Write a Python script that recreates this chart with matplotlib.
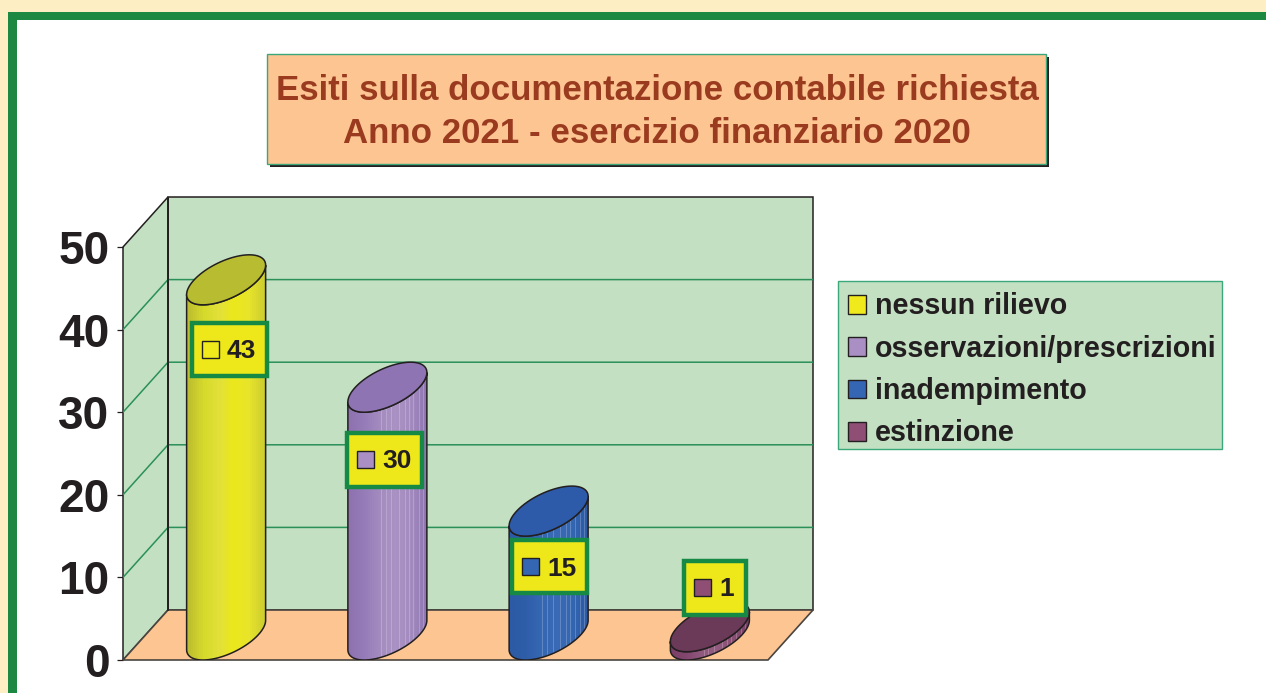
import numpy as np
import matplotlib
matplotlib.use('Agg')
import matplotlib.pyplot as plt
from matplotlib.colors import LinearSegmentedColormap
from matplotlib.patches import Patch, Polygon, Rectangle
from matplotlib.transforms import Affine2D

categories = ['nessun rilievo', 'osservazioni/prescrizioni', 'inadempimento', 'estinzione']
values = [43, 30, 15, 1]
yticks = [0, 10, 20, 30, 40, 50]
title_lines = ['Esiti sulla documentazione contabile richiesta',
               'Anno 2021 - esercizio finanziario 2020']

# colours
swatch_colors = ['#f0ea1c', '#a98fc4', '#3566b4', '#8f4f75']
top_colors = ['#b7bc30', '#8e74b2', '#2d5ba9', '#6b3a58']
body_colors = [['#bcbd30', '#d6da2a', '#e2e03a', '#ece81c', '#e8e42a', '#cccd2f'],
               ['#8d72b0', '#967cb8', '#a48cc0', '#aa92c4', '#a48cc0', '#8f76b2'],
               ['#2c5aa5', '#2f5ea9', '#3567b2', '#3a6ab5', '#3567b2', '#2c5aa5'],
               ['#7a3f68', '#84476f', '#91597e', '#945c80', '#8a4f74', '#7a3f68']]
ink = '#231f20'
green = '#1c8842'
box_green = '#168a45'
line_green = '#2a9058'
thin_green = '#3aa87a'
wall = '#c3e0c2'
peach = '#fdc592'
yellow = '#eee81a'

# value label boxes, in pixels: left, top, width, height
label_boxes = [(190, 321, 79, 57), (345, 431, 79, 58), (510, 538, 79, 57), (682, 559, 66, 58)]
# lighter vertical streaks on the cylinders, as fraction of cylinder width
streaks = [0.42, 0.48, 0.55, 0.65, 0.72, 0.77, 0.83, 0.90, 0.95]

W, H = 1266, 693
plt.rcParams['font.family'] = ['Liberation Sans', 'DejaVu Sans']
plt.rcParams['font.weight'] = 'bold'

fig = plt.figure(figsize=(W / 100, H / 100), dpi=100, facecolor='#fdefc3')
px = Affine2D().scale(1, -1).translate(0, H)  # pixel coords, origin top left

# page frame
fig.add_artist(Rectangle((8, 11.5), W, H, facecolor=green, edgecolor='none', transform=px, zorder=-2))
fig.add_artist(Rectangle((16.5, 19.5), W - 17, H - 20, facecolor='white', edgecolor='none', transform=px, zorder=-1))

# title box
fig.add_artist(Rectangle((270, 57), 779, 110, facecolor=ink, edgecolor='none', transform=px, zorder=-1))
fig.add_artist(Rectangle((266.5, 53.5), 779, 110, facecolor=peach, edgecolor=thin_green, lw=1, transform=px, zorder=-1))
for line, y in zip(title_lines, [87, 130]):
    fig.text(657, y, line, color='#9a3b1f', fontsize=25.1, ha='center', va='center_baseline', transform=px)

# plot axes: front plane 123..768 px, back plane shifted 45 px right and 50 px up
ax = fig.add_axes([123 / W, 1 - 660 / H, 690 / W, 463 / H])
ax.patch.set_visible(False)
for s in ax.spines.values():
    s.set_visible(False)

depth_x = 45 / 161.25
depth_y = 50 / 8.26
half_w = 39.5 / 161.25
tilt = np.radians(54)
x0, x1 = -0.5, 3.5
ymax = 50

ax.add_patch(Rectangle((x0 + depth_x, depth_y), x1 - x0, ymax, facecolor=wall, edgecolor=ink, lw=1.1,
                       zorder=1, clip_on=False))
ax.add_patch(Polygon([(x0, 0), (x0 + depth_x, depth_y), (x0 + depth_x, ymax + depth_y), (x0, ymax)],
                     facecolor=wall, edgecolor=ink, lw=1.1, zorder=1, clip_on=False))
ax.add_patch(Polygon([(x0, 0), (x1, 0), (x1 + depth_x, depth_y), (x0 + depth_x, depth_y)],
                     facecolor=peach, edgecolor='#4a4540', lw=1.2, zorder=2, clip_on=False))
for v in yticks[1:-1]:
    ax.plot([x0, x0 + depth_x, x1 + depth_x], [v, v + depth_y, v + depth_y], color=line_green, lw=1.1, zorder=3)
ax.plot([x0 + depth_x, x0 + depth_x], [depth_y, ymax + depth_y], color=ink, lw=1.3, zorder=3)


def ellipse(i, v, s):
    x = i + depth_x / 2 + half_w * np.cos(s)
    y = v + depth_y / 2 + depth_y / 2 * np.cos(s - tilt)
    return x, y


s_low = np.linspace(np.pi, 2 * np.pi, 80)
s_all = np.linspace(0, 2 * np.pi, 160)

for i, v in enumerate(values):
    xb, yb = ellipse(i, 0, s_low)
    xt, yt = ellipse(i, v, s_low[::-1])
    body = Polygon(np.column_stack([np.r_[xb, xt], np.r_[yb, yt]]), facecolor='none', edgecolor=ink, lw=1.1, zorder=5)
    ax.add_patch(body)
    cmap = LinearSegmentedColormap.from_list('b%d' % i, body_colors[i])
    im = ax.imshow(np.linspace(0, 1, 40)[None, :], extent=(xb.min(), xb.max(), 0, v + depth_y), aspect='auto',
                   cmap=cmap, interpolation='nearest', zorder=4)
    im.set_clip_path(body)
    if i > 0:
        for f in streaks:
            xs = xb.min() + f * (xb.max() - xb.min())
            streak, = ax.plot([xs, xs], [0, v + depth_y], color='white', alpha=0.22, lw=0.7, zorder=4.5)
            streak.set_clip_path(body)
    xe, ye = ellipse(i, v, s_all)
    ax.add_patch(Polygon(np.column_stack([xe, ye]), facecolor=top_colors[i], edgecolor=ink, lw=1.1, zorder=6))

ax.set_xlim(x0, x1 + depth_x)
ax.set_ylim(0, ymax + depth_y)
ax.set_xticks([])
ax.set_yticks(yticks)
ax.set_yticklabels([str(v) for v in yticks], fontsize=33, color=ink)
ax.tick_params(axis='y', length=4.3, width=0.9, color=ink, pad=5.5)

# value labels
for i, v in enumerate(values):
    l, t, w, h = label_boxes[i]
    ax.add_patch(Rectangle((l + 2.2, t + 2.2), w - 4.4, h - 4.4, facecolor=yellow, edgecolor=box_green, lw=3.2,
                           transform=px, zorder=10, clip_on=False))
    ax.add_patch(Rectangle((l + 11.5, t + 20), 17, 17, facecolor=swatch_colors[i], edgecolor=ink, lw=1,
                           transform=px, zorder=11, clip_on=False))
    ax.text(l + 37, t + 28, str(v), color=ink, fontsize=19, ha='left', va='center_baseline',
            transform=px, zorder=11)

# legend, the frame is a separate box because its padding is not even
fig.add_artist(Rectangle((837.5, 280.5), 384.5, 168, facecolor=wall, edgecolor=thin_green, lw=1, transform=px, zorder=-1))
handles = [Patch(facecolor=c, edgecolor=ink, lw=1) for c in swatch_colors]
leg = ax.legend(handles, categories, loc='upper left', bbox_to_anchor=(838.5, 283), bbox_transform=px,
                borderaxespad=0, fontsize=20.6, frameon=False,
                handlelength=0.63, handleheight=0.63, handletextpad=0.32, labelspacing=0.5, borderpad=0.33,
                labelcolor=ink)
leg.set_zorder(12)

fig.savefig('out.png', dpi=100, facecolor=fig.get_facecolor())
